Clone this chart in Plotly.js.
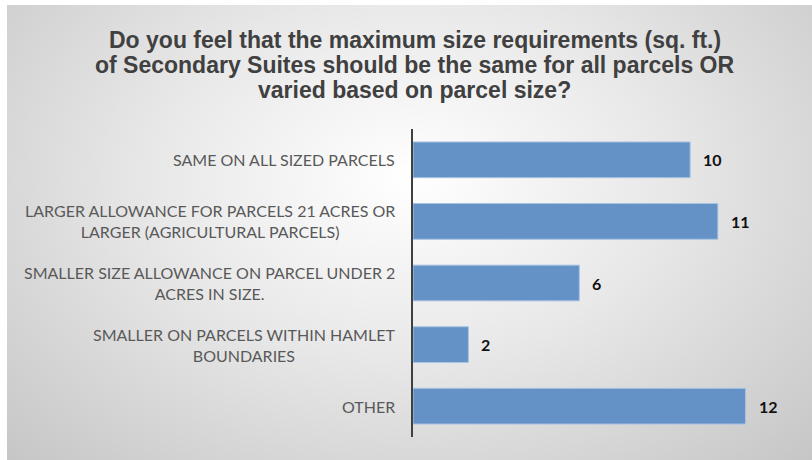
<!DOCTYPE html>
<html>
<head>
<meta charset="utf-8">
<script src="https://cdn.plot.ly/plotly-3.0.1.min.js"></script>
<style>
  html, body { margin: 0; padding: 0; background: #ffffff; }
  #chart {
    position: absolute;
    left: 7px;
    top: 5px;
    width: 805px;
    height: 455px;
    background: radial-gradient(ellipse farthest-corner at 50% 38%, #ffffff 0%, #e8e8e8 45%, #c6c6c6 100%);
  }
</style>
</head>
<body>
<div id="chart"></div>
<script>
const titleLines = [
  "Do you feel that the maximum size requirements (sq. ft.)",
  "of Secondary Suites should be the same for all parcels OR",
  "varied based on parcel size?",
];
const categories = [
  "SAME ON ALL SIZED PARCELS",
  "LARGER ALLOWANCE FOR PARCELS 21 ACRES OR<br>LARGER (AGRICULTURAL PARCELS)",
  "SMALLER SIZE ALLOWANCE ON PARCEL UNDER 2<br>ACRES IN SIZE.",
  "SMALLER ON PARCELS WITHIN HAMLET<br>BOUNDARIES",
  "OTHER",
];
const counts = [10, 11, 6, 2, 12];

const labelFont = { family: "Lato, 'Open Sans', sans-serif", size: 16, color: "#595959" };

const annotations = [];

// title drawn line by line so the line spacing can stay tight
titleLines.forEach((t, i) => {
  annotations.push({
    xref: "paper", yref: "paper",
    x: 0.005, y: 1.289 - i * 0.0812,
    text: "<b>" + t + "</b>", showarrow: false,
    xanchor: "center", yanchor: "middle",
    font: { family: "'Liberation Sans', Arial, sans-serif", size: 23, color: "#404040" },
  });
});

// category labels, centred lines like the original
categories.forEach((c, i) => {
  annotations.push({
    x: 0, y: i, xref: "x", yref: "y",
    text: c, showarrow: false,
    xanchor: "right", yanchor: "middle", align: "center",
    xshift: -16,
    font: labelFont,
  });
});

// value labels
counts.forEach((v, i) => {
  annotations.push({
    x: v, y: i, xref: "x", yref: "y",
    text: "<b>" + v + "</b>", showarrow: false,
    xanchor: "left", yanchor: "middle",
    xshift: 11,
    font: { family: "Lato, sans-serif", size: 16, color: "#111111" },
  });
});

Plotly.newPlot(
  "chart",
  [
    {
      x: counts,
      y: categories.map((_, i) => i),
      type: "bar",
      orientation: "h",
      width: 0.58,
      marker: { color: "#6592c6", line: { color: "#a8c3e3", width: 1 } },
      hoverinfo: "x",
    },
  ],
  {
    width: 805,
    height: 455,
    paper_bgcolor: "rgba(0,0,0,0)",
    plot_bgcolor: "rgba(0,0,0,0)",
    margin: { l: 406, r: 11, t: 124, b: 23 },
    showlegend: false,
    xaxis: {
      range: [0, 14],
      visible: false,
      fixedrange: true,
    },
    yaxis: {
      range: [4.5, -0.5],
      showticklabels: false,
      showgrid: false,
      zeroline: false,
      ticks: "",
      showline: true,
      linecolor: "#404040",
      linewidth: 2.5,
      fixedrange: true,
    },
    annotations: annotations,
  },
  { displayModeBar: false, staticPlot: true }
);
</script>
</body>
</html>
